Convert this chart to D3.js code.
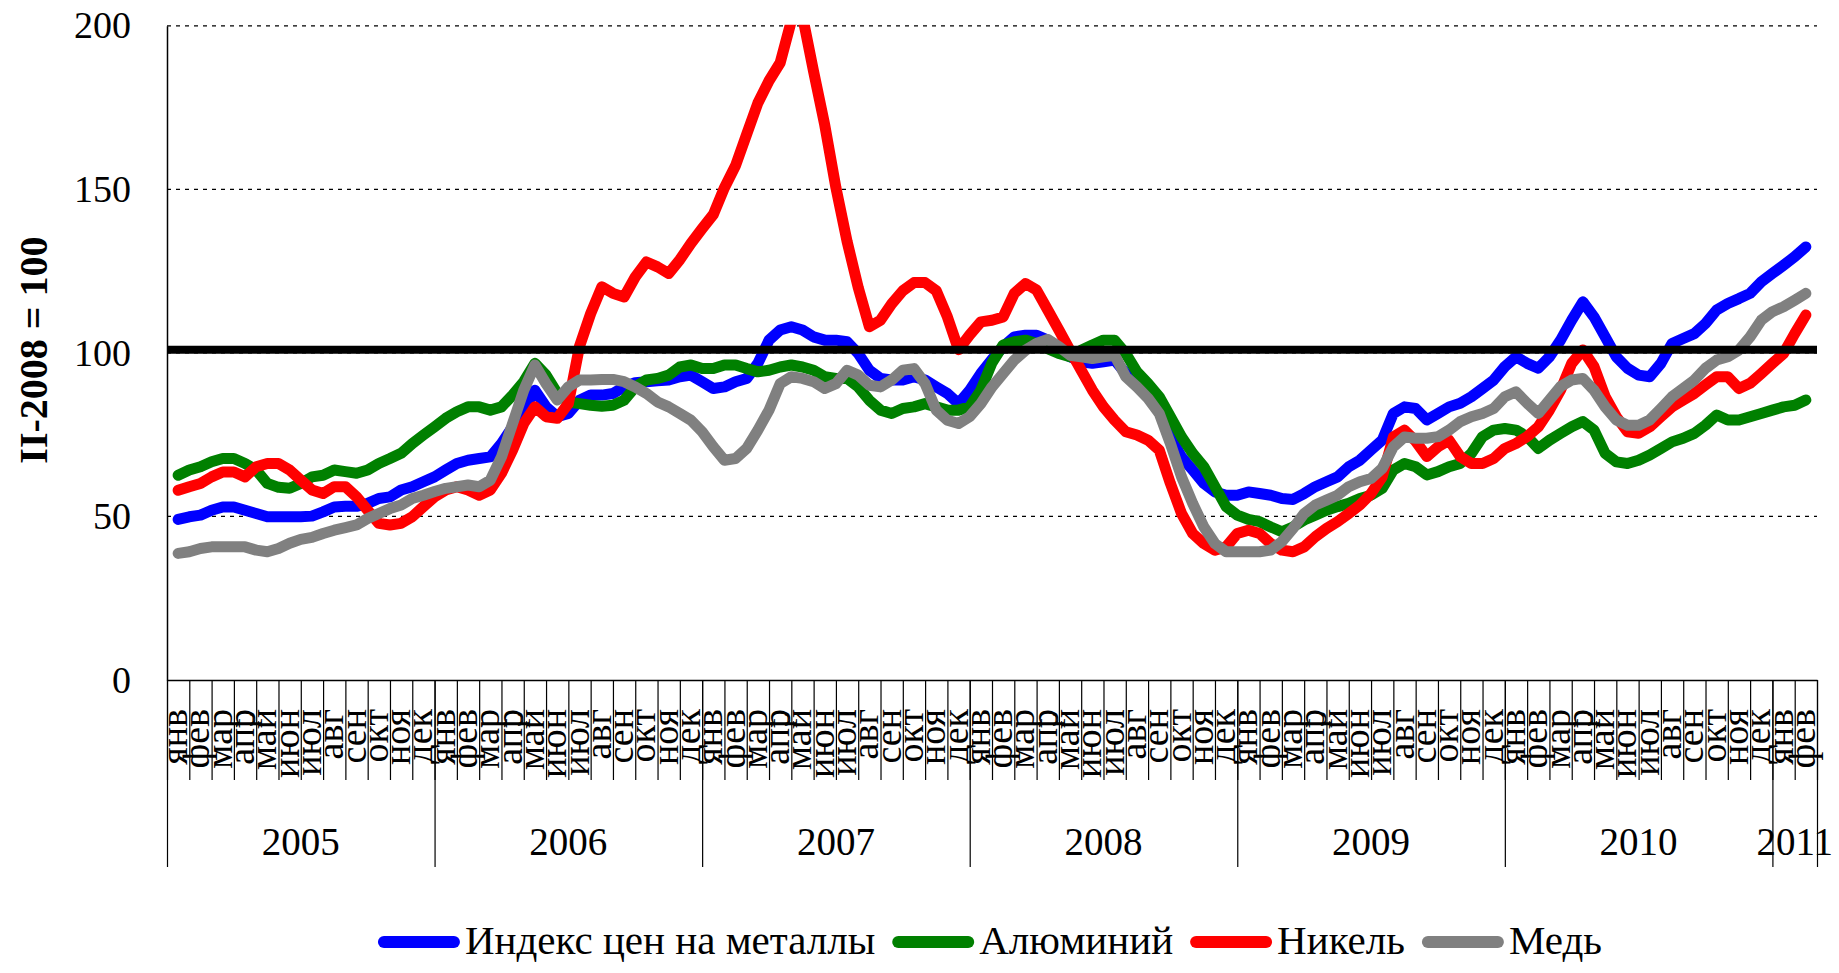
<!DOCTYPE html>
<html>
<head>
<meta charset="utf-8">
<script src="https://cdn.jsdelivr.net/npm/d3@7"></script>
<style>
body { margin: 0; background: #fff; }
svg { display: block; font-family: "Liberation Serif", "Times New Roman", serif; }
</style>
</head>
<body>
<svg id="chart" width="1839" height="973"></svg>
<script>
// month and year categories (Jan 2005 .. Feb 2011)
const monthNames = ["янв","фев","мар","апр","май","июн","июл","авг","сен","окт","ноя","дек"];
const years = ["2005","2006","2007","2008","2009","2010","2011"];
const monthsInYear = [12,12,12,12,12,12,2];
const yTicks = [0, 50, 100, 150, 200];
const baseLevel = 101;

// values every half month
const indexMetals = [49.1,49.9,50.4,51.9,52.9,52.9,51.9,50.9,49.9,49.9,49.9,49.9,50.1,51.4,52.9,53.1,53.1,54.0,55.5,56.0,58.1,59.1,60.6,62.1,64.2,66.2,67.2,67.7,68.2,72.3,77.4,82.5,88.6,83.5,80.5,81.5,85.5,
 87.1,87.1,87.6,89.6,90.9,91.2,91.5,91.7,92.7,93.2,91.2,89.1,89.6,91.2,92.2,96.8,103.9,107.0,108.0,107.0,104.9,103.9,103.9,103.4,99.8,94.7,92.2,91.7,91.7,92.7,91.7,89.6,87.6,84.5,88.6,93.7,
 98.0,101.9,104.9,105.4,105.4,103.9,101.9,98.8,97.3,96.8,97.3,97.8,93.7,90.6,87.6,82.5,74.3,68.2,64.2,60.1,57.5,56.5,56.5,57.5,57.0,56.5,55.5,55.2,57.0,59.1,60.6,62.1,65.2,67.2,70.3,73.3,81.5,83.5,
 83.0,79.5,81.5,83.5,84.6,86.6,89.1,91.7,95.8,98.8,96.8,95.3,98.8,103.9,110.0,115.6,111.0,104.9,98.8,95.3,93.2,92.7,96.8,102.9,104.4,105.9,109.0,113.1,115.1,116.6,118.2,121.7,124.3,126.8,129.4,132.4];

const aluminium = [62.6,64.2,65.2,66.7,67.7,67.7,66.2,64.2,60.1,58.9,58.6,60.1,62.1,62.6,64.2,63.7,63.2,64.2,66.2,67.7,69.3,72.3,74.9,77.4,80.0,82.0,83.5,83.5,82.5,83.5,87.1,91.2,96.8,93.2,87.7,85.0,84.5,
 84.0,83.7,84.0,85.5,89.6,91.7,92.2,93.2,95.7,96.3,95.2,95.2,96.3,96.3,95.2,94.2,94.7,95.7,96.3,95.7,94.7,92.7,92.2,92.2,89.6,85.5,82.5,81.5,83.0,83.5,84.5,83.5,82.5,82.5,83.5,88.6,
 97.0,102.4,103.4,103.9,102.9,101.3,99.8,98.8,100.8,102.4,103.9,103.9,99.8,94.2,90.6,86.6,80.5,74.3,69.3,65.2,59.1,53.0,50.4,49.1,48.4,46.8,45.3,46.8,48.9,50.4,51.9,53.0,54.0,55.5,56.5,58.6,64.2,66.2,
 65.2,62.7,63.7,65.2,66.2,69.3,74.4,76.4,76.9,76.4,74.4,70.8,73.3,75.4,77.4,79.0,76.4,69.3,66.7,66.2,67.2,68.8,70.8,72.8,73.9,75.4,77.9,81.0,79.5,79.5,80.5,81.5,82.5,83.5,84.0,85.6];

const nickel = [58.0,59.1,60.1,62.1,63.6,63.6,62.1,65.2,66.2,66.2,64.2,61.1,58.1,57.0,59.1,59.1,56.0,51.9,47.9,47.4,47.9,49.9,53.0,56.0,58.1,59.1,58.1,56.5,58.1,63.2,70.3,78.4,83.5,80.5,80.0,84.5,102.0,
 112.0,120.2,118.2,117.1,123.2,127.8,126.3,124.3,128.5,133.5,138.0,142.3,150.5,157.3,166.9,176.4,183.2,188.7,201.5,203.0,186.0,169.6,150.5,134.1,120.0,108.0,110.0,115.0,119.0,121.5,121.5,119.0,111.0,101.0,105.5,109.5,
 110.0,111.0,118.2,121.2,119.2,113.1,107.0,100.8,94.7,88.6,83.5,79.4,75.9,74.9,73.3,70.3,60.1,50.9,44.8,41.7,39.7,40.7,44.8,45.8,44.8,41.7,39.7,39.2,40.7,43.8,46.3,48.4,50.9,53.5,57.0,62.1,74.3,76.4,
 73.0,68.3,71.3,73.3,68.3,66.2,66.2,67.7,70.8,72.3,74.4,77.4,82.5,88.6,96.8,100.9,95.8,86.6,80.5,75.9,75.4,77.4,80.5,83.5,85.6,87.6,90.2,92.7,92.7,89.1,90.7,93.7,96.8,99.8,105.9,111.6];

const copper = [38.7,39.2,40.2,40.7,40.7,40.7,40.7,39.7,39.2,40.2,41.8,43.0,43.6,44.8,45.8,46.6,47.4,49.4,50.9,52.4,53.5,55.5,56.5,57.6,58.6,59.1,59.6,59.1,61.1,68.2,78.4,88.6,96.3,90.6,85.6,89.6,91.7,
 91.7,91.9,91.9,91.2,89.6,87.6,85.0,83.5,81.5,79.4,75.9,71.3,67.2,67.7,70.8,76.4,82.5,90.6,92.7,92.2,91.2,89.1,90.6,94.7,93.2,90.1,89.6,91.7,94.7,95.2,90.6,82.5,79.4,78.4,80.5,84.5,
 89.6,93.7,97.8,100.8,102.9,104.1,101.9,99.3,98.8,98.3,98.8,99.3,92.7,89.6,86.1,81.5,72.3,62.1,54.0,46.8,41.7,39.2,39.2,39.2,39.2,39.7,42.3,46.3,50.9,53.5,55.0,56.5,59.1,60.6,61.6,64.7,71.3,74.3,
 73.9,73.9,74.4,76.4,79.0,80.5,81.5,83.0,86.6,88.1,84.6,81.5,85.6,89.7,91.7,92.2,88.6,83.5,79.5,77.9,77.9,79.5,83.0,86.6,89.1,91.7,95.3,97.8,98.8,100.9,104.9,110.0,112.6,114.1,116.1,118.2];

const seriesNames = ["Индекс цен на металлы", "Алюминий", "Никель", "Медь"];
const seriesColors = ["#0000ff", "#008000", "#ff0000", "#808080"];
const seriesValues = [indexMetals, aluminium, nickel, copper];

const svg = d3.select("#chart");
const plotLeft = 167, plotRight = 1817, plotTop = 25.8, plotBottom = 680;
const nMonths = d3.sum(monthsInYear);

const x = d3.scaleLinear().domain([0, nMonths]).range([plotLeft, plotRight]);
const y = d3.scaleLinear().domain([0, 200]).range([plotBottom, plotTop]);

//Grid lines
svg.append("g")
	.selectAll("line")
	.data(yTicks.filter(d => d > 0))
	.join("line")
	.attr("x1", plotLeft).attr("x2", plotRight)
	.attr("y1", d => y(d)).attr("y2", d => y(d))
	.attr("stroke", "#000")
	.attr("stroke-width", 1.2)
	.attr("stroke-dasharray", "4,5");

//Y axis
let yAxis = svg.append("g")
	.attr("transform", "translate(" + plotLeft + ",0)")
	.call(d3.axisLeft(y).tickValues(yTicks).tickSize(0).tickPadding(36));
yAxis.attr("font-family", "Liberation Serif").attr("font-size", 38);
yAxis.select(".domain").attr("stroke", "#000").attr("stroke-width", 1.5);
yAxis.selectAll("text").attr("fill", "#000");

svg.append("text")
	.attr("transform", "translate(33,350) rotate(-90)")
	.attr("text-anchor", "middle")
	.attr("dominant-baseline", "central")
	.attr("font-size", 40)
	.attr("font-weight", "bold")
	.text("II-2008 = 100");

//X axis: month ticks and year separators
let yearBounds = [0];
monthsInYear.forEach(m => yearBounds.push(yearBounds[yearBounds.length - 1] + m));

let monthAxis = svg.append("g")
	.attr("transform", "translate(0," + plotBottom + ")")
	.call(d3.axisBottom(x).tickValues(d3.range(0, nMonths + 1)).tickSize(100).tickSizeOuter(0).tickFormat(""));
monthAxis.select(".domain").attr("stroke", "#000").attr("stroke-width", 1.5);
monthAxis.selectAll(".tick line").attr("stroke", "#000").attr("stroke-width", 1.2);

let yearAxis = svg.append("g")
	.attr("transform", "translate(0," + plotBottom + ")")
	.call(d3.axisBottom(x).tickValues(yearBounds).tickSize(187).tickSizeOuter(0).tickFormat(""));
yearAxis.select(".domain").remove();
yearAxis.selectAll(".tick line").attr("stroke", "#000").attr("stroke-width", 1.2);

svg.append("g")
	.selectAll("text")
	.data(d3.range(nMonths))
	.join("text")
	.attr("transform", i => "translate(" + (x(i + 0.5) + 9) + ",709) rotate(-90)")
	.attr("text-anchor", "end")
	.attr("font-size", 38)
	.text(i => monthNames[i % 12]);

svg.append("g")
	.selectAll("text")
	.data(years)
	.join("text")
	.attr("x", (d, i) => x((yearBounds[i] + yearBounds[i + 1]) / 2))
	.attr("y", 855)
	.attr("text-anchor", "middle")
	.attr("font-size", 39)
	.text(d => d);

//Series lines
svg.append("clipPath").attr("id", "plotClip")
	.append("rect")
	.attr("x", 0).attr("y", y(200) - 1)
	.attr("width", 1839).attr("height", plotBottom - y(200) + 1);

let line = d3.line()
	.x((d, k) => x(k / 2 + 0.5))
	.y(d => y(d));

svg.append("g")
	.attr("clip-path", "url(#plotClip)")
	.selectAll("path")
	.data(seriesValues)
	.join("path")
	.attr("d", d => line(d))
	.attr("fill", "none")
	.attr("stroke", (d, i) => seriesColors[i])
	.attr("stroke-width", 11)
	.attr("stroke-linejoin", "round")
	.attr("stroke-linecap", "round");

//Base level line
svg.append("line")
	.attr("x1", plotLeft).attr("x2", plotRight)
	.attr("y1", y(baseLevel)).attr("y2", y(baseLevel))
	.attr("stroke", "#000")
	.attr("stroke-width", 8);

//Legend
let legend = svg.append("g");
let lx = 0;
seriesNames.forEach((name, i) => {
	legend.append("line")
		.attr("x1", lx + 6).attr("x2", lx + 76)
		.attr("y1", 942).attr("y2", 942)
		.attr("stroke", seriesColors[i])
		.attr("stroke-width", 12)
		.attr("stroke-linecap", "round");
	let t = legend.append("text")
		.attr("x", lx + 87)
		.attr("y", 954)
		.attr("font-size", 41)
		.text(name);
	lx += 87 + t.node().getComputedTextLength() + 17;
});
legend.attr("transform", "translate(" + (990 - (lx - 17) / 2) + ",0)");
</script>
</body>
</html>
